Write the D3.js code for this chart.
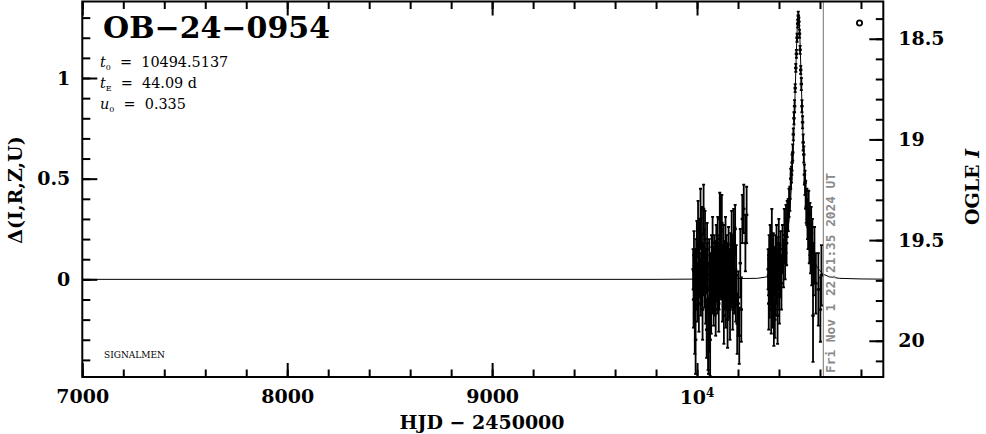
<!DOCTYPE html>
<html><head><meta charset="utf-8">
<script src="https://cdn.jsdelivr.net/npm/d3@7"></script>
<style>
html,body{margin:0;padding:0;background:#fff;}
svg{display:block;}
</style></head><body>
<svg id="chart" width="986" height="434"></svg>
<script>
// ---------------- data ----------------
const eventName = "OB\u221224\u22120954";
const paramT0 = "10494.5137";
const paramTE = "44.09 d";
const paramU0 = "0.335";
const stampText = "Fri Nov  1 22:21:35 2024 UT";
const stampHJD = 10616.4;

const xMajorTicks = [7000, 8000, 9000, 10000];
const xMinorTicks = d3.range(7000, 10901, 200);
const yMajorTicks = [0, 0.5, 1];
const yMinorTicks = d3.range(-4, 14).map(v => v / 10);
const magMajorTicks = [18.5, 19, 19.5, 20];
const magMinorTicks = d3.range(184, 202).map(v => v / 10);
const magBaseline = 19.695;

// season 2023: [HJD-2450000, delta, error]
const season2023 = [
[9981,0.05,0.10],[9983,-0.10,0.14],[9985,0.12,0.12],[9987,-0.05,0.12],[9989,-0.12,0.25],[9991,0.00,0.15],[9993,-0.30,0.17],[9995,0.02,0.12],[9996,0.08,0.12],[9999,0.15,0.14],[10000,-0.04,0.11],[10002,-0.08,0.13],
[10005,0.25,0.14],[10007,0.05,0.12],[10009,-0.12,0.14],[10010,0.05,0.12],[10012,0.18,0.12],[10014,0.02,0.11],[10017,0.30,0.15],[10019,-0.05,0.13],[10020,-0.02,0.11],[10022,0.10,0.12],[10024,0.22,0.14],[10027,-0.15,0.15],
[10029,0.06,0.12],[10030,0.04,0.12],[10032,0.35,0.12],[10034,0.12,0.13],[10037,-0.02,0.12],[10039,0.20,0.14],[10040,0.00,0.11],[10042,-0.10,0.12],[10044,0.04,0.11],[10047,-0.25,0.14],[10049,0.15,0.13],[10050,0.06,0.12],[10052,-0.05,0.12],
[10054,-0.30,0.15],[10056,-0.28,0.19],[10059,0.08,0.12],[10061,-0.20,0.16],[10062.5,0.02,0.10],[10064,-0.30,0.18],[10066,0.00,0.13],[10067.5,-0.04,0.11],[10069,-0.12,0.15],[10071,0.10,0.12],[10072.5,0.06,0.10],[10074,-0.06,0.11],[10076,0.18,0.13],
[10077.5,-0.02,0.11],[10079,0.05,0.11],[10081,-0.10,0.13],[10082.5,0.04,0.10],[10084,0.12,0.10],[10086,0.00,0.12],[10087.5,-0.06,0.12],[10089,0.08,0.11],[10091,-0.15,0.13],[10092.5,0.08,0.10],[10094,0.15,0.12],[10096,0.02,0.10],[10097.5,0.00,0.11],[10099,-0.05,0.12],[10101,0.20,0.11],
[10102.5,0.04,0.10],[10104,0.06,0.12],[10106,-0.12,0.14],[10107.5,-0.04,0.11],[10109,0.10,0.12],[10111,0.30,0.13],[10112.5,0.10,0.10],[10114,0.02,0.11],[10116,0.25,0.17],[10117.5,0.02,0.12],[10119,0.12,0.12],[10121,0.28,0.14],[10122.5,0.06,0.10],[10124,-0.08,0.13],[10126,0.05,0.12],
[10127.5,-0.02,0.11],[10129,0.15,0.12],[10131,-0.18,0.14],[10132.5,0.04,0.10],[10134,0.08,0.11],[10136,-0.03,0.12],[10137.5,0.08,0.11],[10139,0.18,0.13],[10141,-0.10,0.14],[10142.5,-0.05,0.10],[10144,0.10,0.12],[10146,0.00,0.13],[10147.5,0.03,0.11],[10149,-0.20,0.14],[10151,0.06,0.12],
[10152.5,0.07,0.10],[10154,0.14,0.12],[10156,-0.06,0.13],[10157.5,-0.03,0.12],[10159,0.02,0.11],[10161,-0.15,0.15],[10162.5,0.05,0.10],[10164,0.10,0.13],[10166,-0.02,0.12],[10167.5,0.00,0.11],[10169,0.20,0.14],[10171,0.05,0.12],[10172.5,0.09,0.10],[10174,-0.12,0.13],[10176,0.08,0.14],
[10177.5,-0.04,0.11],[10179,0.22,0.13],[10181,-0.05,0.12],[10182.5,0.03,0.10],[10184,0.12,0.14],[10186,0.25,0.12],[10189,-0.08,0.13],[10191,0.02,0.15],[10196,-0.22,0.15],[10201,-0.12,0.16],[10206,-0.28,0.14],[10211,0.08,0.17],
[10216,-0.15,0.16],[10221,0.30,0.12],[10228,0.35,0.12],[10236,0.18,0.14],[10242,0.32,0.14]
];

// season 2024 before the peak
const season2024Pre = [
[10347,0.05,0.10],[10349,0.02,0.10],[10350,-0.12,0.13],[10352,0.10,0.12],[10354,-0.04,0.11],[10355,-0.05,0.14],[10357,0.15,0.12],[10359,0.06,0.10],[10360,0.00,0.11],[10362,-0.15,0.12],[10364,-0.02,0.11],[10365,0.22,0.13],[10367,0.08,0.12],[10369,0.03,0.10],[10370,-0.10,0.14],
[10372,0.12,0.11],[10374,-0.06,0.12],[10375,-0.20,0.13],[10377,0.04,0.12],[10379,0.05,0.11],[10380,-0.20,0.09],[10383,0.10,0.12],[10384,0.00,0.10],[10385,-0.05,0.13],[10388,0.15,0.12],[10389,0.04,0.11],[10391,0.00,0.12],[10393,-0.18,0.14],[10394,-0.03,0.12],[10396,0.08,0.13],
[10398,0.07,0.10],[10399,0.18,0.12],[10402,-0.08,0.14],[10404,0.02,0.11],[10405,0.05,0.12],[10408,0.12,0.12],[10412,-0.02,0.13],[10417,0.15,0.12],[10422,0.08,0.12],[10426,0.22,0.13],[10430,0.12,0.12],[10434,0.25,0.12],
[10437,0.18,0.11]
];

// season 2024 peak
const season2024Peak = [
[10440,0.30,0.09],[10445,0.32,0.08],[10449,0.38,0.07],[10453,0.40,0.06],[10457,0.50,0.05],[10461,0.52,0.04],[10464,0.58,0.04],[10467,0.63,0.04],[10470,0.72,0.03],[10473,0.80,0.03],
[10476,0.86,0.03],[10479,0.95,0.02],[10482,1.05,0.02],[10485,1.12,0.02],[10488,1.20,0.02],[10491,1.27,0.02],[10494,1.31,0.02],[10497,1.28,0.02],[10500,1.22,0.02],[10503,1.14,0.02],
[10506,1.04,0.02],[10509,0.97,0.03],[10512,0.86,0.03],[10515,0.78,0.03],[10518,0.68,0.04],[10521,0.62,0.04],[10524,0.52,0.05],[10527,0.48,0.06],[10530,0.42,0.07],[10533,0.36,0.08]
];

// season 2024 after the peak
const season2024Post = [
[10536,0.36,0.09],[10539,0.30,0.10],[10542,0.26,0.11],[10545,0.32,0.12],[10548,0.20,0.12],[10551,0.25,0.13],[10554,0.15,0.12],[10557,0.22,0.14],[10560,0.10,0.13],[10563,0.18,0.12],
[10566,-0.18,0.23],[10569,0.05,0.13],[10573,0.12,0.14],[10580,-0.02,0.15],[10592,-0.05,0.18],[10602,-0.15,0.16],[10607,0.02,0.15]
];

// model curve (HJD, delta)
const modelT = [7000,9800,10100,10200,10294.5,10344.5,10374.5,10404.5,10419.5,10434.5,10449.5,10457,10464.5,10469.5,10474.5,10479.5,10482,10484.5,10487,10489.5,10492,10494.5,
10497,10499.5,10502,10504.5,10507,10509.5,10514.5,10519.5,10524.5,10532,10539.5,10554.5,10569.5,10584.5,10614.5,10644.5,10694.5,10800,10909];
const modelD = [0,0,0.002,0.004,0.005,0.013,0.026,0.062,0.101,0.170,0.298,0.400,0.537,0.653,0.792,0.952,1.036,1.119,1.196,1.260,1.303,1.318,
1.303,1.260,1.196,1.119,1.036,0.952,0.792,0.653,0.537,0.400,0.298,0.170,0.101,0.062,0.026,0.013,0.005,0.002,0.001];

// ---------------- drawing ----------------
const L = 82.3, R = 883.3, T = 1.5, B = 377;
const svg = d3.select("#chart");
const x = d3.scaleLinear().domain([7000, 10909]).range([L, R]);
const y = d3.scaleLinear().domain([-0.485, 1.380]).range([B, T]);
const yMag = d3.scaleLinear().domain([magBaseline - 1.380, magBaseline + 0.485]).range([T, B]);

const FONT = "'DejaVu Serif', serif";

svg.append("defs").append("clipPath").attr("id", "clip")
  .append("rect").attr("x", L).attr("y", T).attr("width", R - L).attr("height", B - T);

const plot = svg.append("g").attr("clip-path", "url(#clip)");
plot.append("path")
  .datum(modelT.map((t, i) => [t, modelD[i]]))
  .attr("fill", "none").attr("stroke", "#000").attr("stroke-width", 1)
  .attr("d", d3.line().x(d => x(d[0])).y(d => y(d[1])));

plot.append("line").attr("x1", x(stampHJD)).attr("x2", x(stampHJD))
  .attr("y1", T).attr("y2", B).attr("stroke", "#8a8a8a").attr("stroke-width", 1.2);

const allObs = season2023.concat(season2024Pre, season2024Peak, season2024Post);
const eb = plot.append("g").attr("stroke", "#000").attr("stroke-width", 1.8);
allObs.forEach(o => {
  const cx = x(o[0]);
  const y1 = y(o[1] - o[2]), y2 = y(o[1] + o[2]);
  eb.append("line").attr("x1", cx).attr("x2", cx).attr("y1", y1).attr("y2", y2);
  eb.append("line").attr("x1", cx - 1.5).attr("x2", cx + 1.5).attr("y1", y1).attr("y2", y1);
  eb.append("line").attr("x1", cx - 1.5).attr("x2", cx + 1.5).attr("y1", y2).attr("y2", y2);
});
plot.append("g").selectAll("rect").data(allObs).join("rect")
  .attr("x", d => x(d[0]) - 1.7).attr("y", d => y(d[1]) - 1.2)
  .attr("width", 3.4).attr("height", 2.4).attr("fill", "#000");

function styleAxis(g, fs) {
  g.select(".domain").remove();
  g.selectAll(".tick line").attr("stroke", "#000").attr("stroke-width", 2);
  g.selectAll(".tick text").attr("fill", "#000").style("font-family", FONT)
    .style("font-weight", "bold").style("font-size", fs + "px");
}
svg.append("g").attr("transform", `translate(0,${B})`)
  .call(d3.axisBottom(x).tickValues(xMajorTicks).tickSize(-14).tickPadding(13)
    .tickFormat(d => d === 10000 ? "" : d3.format("d")(d)))
  .call(g => styleAxis(g, 19));
svg.append("g").attr("transform", `translate(0,${B})`)
  .call(d3.axisBottom(x).tickValues(xMinorTicks).tickSize(-7.5).tickFormat(""))
  .call(g => styleAxis(g, 19));
svg.append("g").attr("transform", `translate(0,${T})`)
  .call(d3.axisTop(x).tickValues(xMajorTicks).tickSize(-14).tickFormat(""))
  .call(g => styleAxis(g, 19));
svg.append("g").attr("transform", `translate(0,${T})`)
  .call(d3.axisTop(x).tickValues(xMinorTicks).tickSize(-7.5).tickFormat(""))
  .call(g => styleAxis(g, 19));
svg.append("g").attr("transform", `translate(${L},0)`)
  .call(d3.axisLeft(y).tickValues(yMajorTicks).tickSize(-15).tickPadding(12).tickFormat(d3.format("")))
  .call(g => styleAxis(g, 19));
svg.append("g").attr("transform", `translate(${L},0)`)
  .call(d3.axisLeft(y).tickValues(yMinorTicks).tickSize(-8).tickFormat(""))
  .call(g => styleAxis(g, 19));
svg.append("g").attr("transform", `translate(${R},0)`)
  .call(d3.axisRight(yMag).tickValues(magMajorTicks).tickSize(-14).tickPadding(15).tickFormat(d3.format("")))
  .call(g => styleAxis(g, 19));
svg.append("g").attr("transform", `translate(${R},0)`)
  .call(d3.axisRight(yMag).tickValues(magMinorTicks).tickSize(-7.5).tickFormat(""))
  .call(g => styleAxis(g, 19));

const t4 = svg.append("text").attr("x", x(10000)).attr("y", 403.5)
  .attr("text-anchor", "middle").style("font-family", FONT).style("font-weight", "bold")
  .style("font-size", "19px");
t4.append("tspan").text("10");
t4.append("tspan").attr("dy", -7).style("font-size", "12px").text("4");

svg.append("rect").attr("x", L).attr("y", T).attr("width", R - L).attr("height", B - T)
  .attr("fill", "none").attr("stroke", "#000").attr("stroke-width", 2);

svg.append("text").attr("x", 482).attr("y", 428.5).attr("text-anchor", "middle")
  .style("font-family", FONT).style("font-weight", "bold").style("font-size", "19px")
  .text("HJD \u2212 2450000");
svg.append("text").attr("transform", "translate(22,190) rotate(-90)").attr("text-anchor", "middle")
  .style("font-family", FONT).style("font-weight", "bold").style("font-size", "19px")
  .text("\u0394(I,R,Z,U)");
const ogle = svg.append("text").attr("transform", "translate(979,187) rotate(-90)").attr("text-anchor", "middle")
  .style("font-family", FONT).style("font-weight", "bold").style("font-size", "19px");
ogle.append("tspan").text("OGLE ");
ogle.append("tspan").style("font-style", "italic").text("I");

svg.append("text").attr("x", 103).attr("y", 38)
  .style("font-family", FONT).style("font-weight", "bold").style("font-size", "30px")
  .text(eventName);
function param(yb, sym, sub, val) {
  const t = svg.append("text").attr("x", 100).attr("y", yb)
    .style("font-family", FONT).style("font-size", "14.4px");
  t.append("tspan").style("font-style", "italic").text(sym);
  t.append("tspan").attr("dy", 3).style("font-size", "8px").text(sub);
  t.append("tspan").attr("dy", -3).text("\u00A0\u00A0=\u00A0\u00A0" + val);
}
param(67, "t", "0", paramT0);
param(88, "t", "E", paramTE);
param(109, "u", "0", paramU0);

svg.append("text").attr("x", 104).attr("y", 358)
  .style("font-family", FONT).style("font-size", "9px").text("SIGNALMEN");

svg.append("circle").attr("cx", 859.5).attr("cy", 23).attr("r", 2.6)
  .attr("fill", "none").attr("stroke", "#000").attr("stroke-width", 1.8);

svg.append("text").attr("transform", `translate(${x(stampHJD) + 11.5},373) rotate(-90)`)
  .attr("textLength", 200).attr("lengthAdjust", "spacingAndGlyphs")
  .style("font-family", "'DejaVu Sans Mono', monospace").style("font-weight", "bold")
  .style("font-size", "11.5px").attr("fill", "#8a8a8a").text(stampText);
</script>
</body></html>
